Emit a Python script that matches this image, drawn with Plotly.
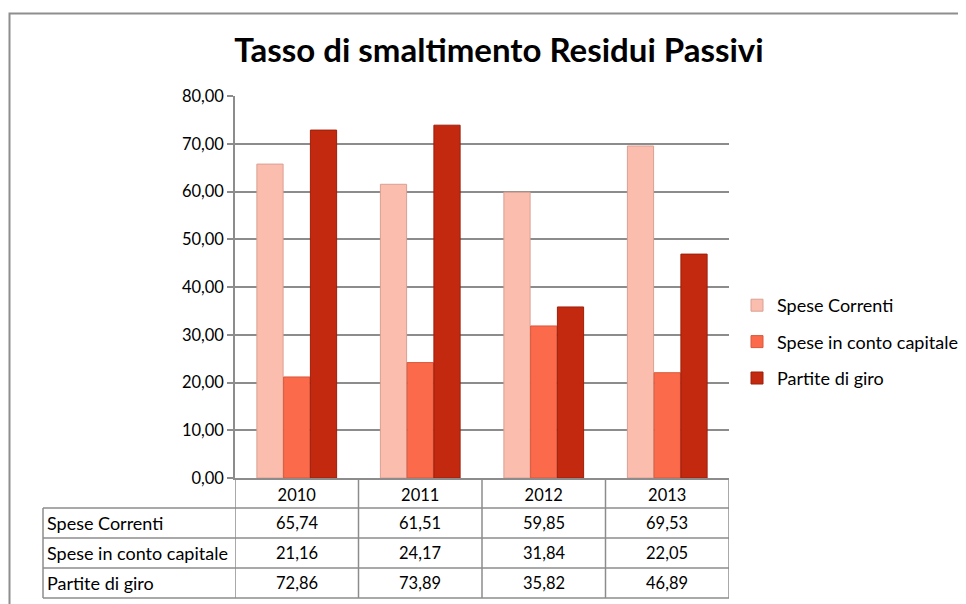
import plotly.graph_objects as go

years = ["2010", "2011", "2012", "2013"]
series_names = ["Spese Correnti", "Spese in conto capitale", "Partite di giro"]
spese_correnti = [65.74, 61.51, 59.85, 69.53]
spese_capitale = [21.16, 24.17, 31.84, 22.05]
partite_giro = [72.86, 73.89, 35.82, 46.89]
y_ticks = [0, 10, 20, 30, 40, 50, 60, 70, 80]

values = [spese_correnti, spese_capitale, partite_giro]
colors = ["#FBBDAD", "#FB6B4B", "#C2290F"]
edge = ["#D9A093", "#D9573B", "#9E1F0A"]

FONT = "Lato, Calibri, Carlito, 'Open Sans', sans-serif"
GRID = "#8C8C8C"
NUM_SIZE = 16.5
LBL_SIZE = 18

OFF = 8  # page body margin
W, H = 966 - OFF, 604 - OFF
# screen-pixel geometry of the plot area
SX0, SX1, SY0, SY1 = 235, 729, 96, 478
L, R, T, B = SX0 - OFF, W - (SX1 - OFF), SY0 - OFF, H - (SY1 - OFF)
PW = SX1 - SX0
PH = SY1 - SY0


def px_x(sx):
    return (sx - SX0) / PW


def px_y(sy):
    return (SY1 - sy) / PH


fig = go.Figure()
for i, (name, vals) in enumerate(zip(series_names, values)):
    fig.add_trace(go.Bar(
        x=years, y=vals, name=name,
        marker=dict(color=colors[i], line=dict(color=edge[i], width=1)),
        legendgroup=name,
    ))

# Data table below the chart
row_h = 30
rows_y = [SY1 + row_h * (k + 1) for k in range(4)]  # 508, 538, 568, 598
left_px = 43
shapes = []
for yy in rows_y:
    shapes.append(dict(type="line", xref="paper", yref="paper",
                       x0=px_x(left_px), x1=1, y0=px_y(yy), y1=px_y(yy),
                       line=dict(color=GRID, width=1.5)))
for j in range(len(years) + 1):
    shapes.append(dict(type="line", xref="x", yref="paper",
                       x0=j - 0.5, x1=j - 0.5, y0=0, y1=px_y(rows_y[-1]),
                       line=dict(color=GRID, width=1.5)))
shapes.append(dict(type="line", xref="paper", yref="paper",
                   x0=px_x(left_px), x1=px_x(left_px),
                   y0=px_y(rows_y[0]), y1=px_y(rows_y[-1]),
                   line=dict(color=GRID, width=1.5)))
# outer chart frame
shapes.append(dict(type="rect", xref="paper", yref="paper",
                   x0=px_x(9.5), x1=px_x(1100), y0=px_y(700), y1=px_y(13.5),
                   line=dict(color="#8E8E8E", width=2), layer="below"))

annotations = []
for k, (name, vals) in enumerate(zip(series_names, values)):
    ymid = px_y(rows_y[k] + row_h / 2 - 0.5)
    annotations.append(dict(xref="paper", yref="paper", x=px_x(left_px + 2), y=ymid,
                            text=name, showarrow=False, xanchor="left", yanchor="middle",
                            font=dict(family=FONT, size=LBL_SIZE, color="#000000")))
    for j, v in enumerate(vals):
        annotations.append(dict(xref="x", yref="paper", x=j, y=ymid,
                                text=f"{v:.2f}".replace(".", ","), showarrow=False,
                                xanchor="center", yanchor="middle",
                                font=dict(family=FONT, size=NUM_SIZE, color="#000000")))

fig.update_layout(
    width=W, height=H,
    margin=dict(l=L, r=R, t=T, b=B, autoexpand=False),
    paper_bgcolor="white", plot_bgcolor="white",
    separators=",.",
    barmode="group", bargap=0.35, bargroupgap=0.02,
    title=dict(text="<b>Tasso di smaltimento Residui Passivi</b>",
               font=dict(family=FONT, size=33, color="#000000"),
               x=(499 - OFF) / W, xanchor="center", xref="container",
               y=1 - (50 - OFF) / H, yanchor="middle", yref="container"),
    font=dict(family=FONT, size=NUM_SIZE, color="#000000"),
    xaxis=dict(type="category", range=[-0.5, len(years) - 0.5],
               showgrid=False, showline=True, linecolor=GRID, linewidth=1.5,
               ticks="outside", ticklen=1, tickcolor="rgba(0,0,0,0)",
               tickfont=dict(family=FONT, size=NUM_SIZE, color="#000000"),
               fixedrange=True),
    yaxis=dict(range=[0, 80], tickvals=y_ticks, tickformat=".2f",
               showgrid=True, gridcolor=GRID, gridwidth=1.5,
               showline=True, linecolor=GRID, linewidth=1.5,
               ticks="outside", ticklen=6, tickcolor=GRID, tickwidth=1.5,
               tickfont=dict(family=FONT, size=NUM_SIZE, color="#000000"),
               zeroline=False, fixedrange=True),
    legend=dict(x=px_x(737), xanchor="left", y=px_y(342), yanchor="middle",
                font=dict(family=FONT, size=LBL_SIZE, color="#000000"),
                tracegroupgap=10, bgcolor="rgba(0,0,0,0)"),
    shapes=shapes,
    annotations=annotations,
)

fig.write_html("out.html")
